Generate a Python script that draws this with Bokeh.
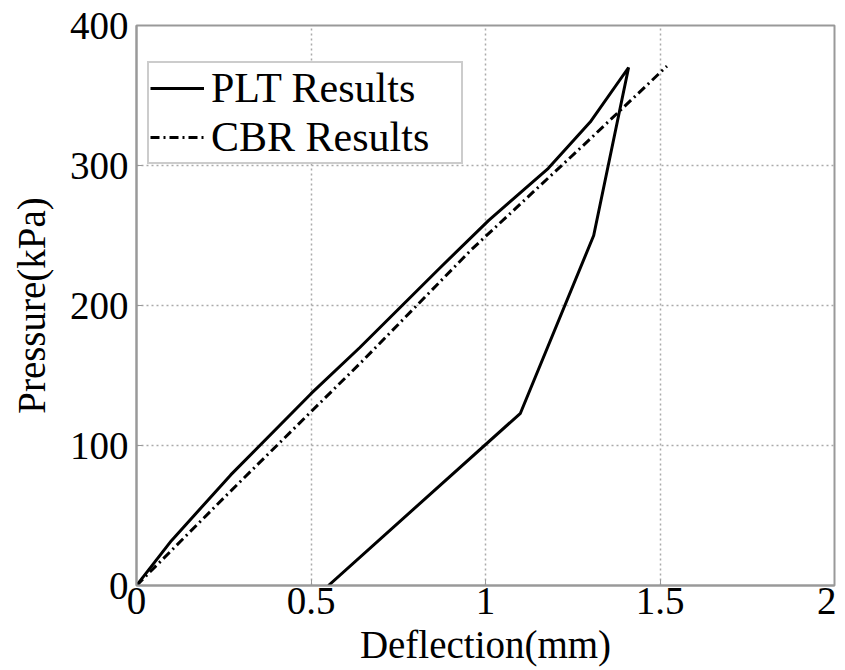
from bokeh.plotting import figure
from bokeh.models import Range1d, FixedTicker, Legend, LegendItem
from bokeh.embed import file_html
from bokeh.resources import INLINE

# PLT loading / unloading path (deflection mm, pressure kPa)
plt_x = [0.0, 0.1, 0.27, 0.5, 0.64, 0.87, 1.01, 1.18, 1.30, 1.41, 1.36, 1.31, 1.10, 0.55]
plt_y = [0, 32, 79, 137, 170, 227, 261, 298, 331, 370, 310, 250, 123, 0]
# CBR prediction
cbr_x = [0.0, 0.26, 0.65, 0.96, 1.30, 1.52]
cbr_y = [0, 65, 161, 240, 319, 371]

x_ticks = [0, 0.5, 1, 1.5, 2]
y_ticks = [0, 100, 200, 300, 400]

FONT = "Liberation Serif"

p = figure(width=836, height=668, output_backend="svg", toolbar_location=None,
           x_range=Range1d(0, 2), y_range=Range1d(0, 400),
           min_border_left=136, min_border_right=2, min_border_top=25, min_border_bottom=81)

l1 = p.line(plt_x, plt_y, line_color="black", line_width=3)
l2 = p.line(cbr_x, cbr_y, line_color="black", line_width=3, line_dash="9 4 2 4")

p.xaxis.ticker = FixedTicker(ticks=x_ticks)
p.yaxis.ticker = FixedTicker(ticks=y_ticks)
p.xaxis.major_label_overrides = {0: "0", 0.5: "0.5", 1: "1", 1.5: "1.5", 2: "2"}

for ax in (p.xaxis[0], p.yaxis[0]):
    ax.axis_line_color = "#999999"
    ax.axis_line_width = 2
    ax.major_tick_line_color = "#999999"
    ax.major_tick_in = 6
    ax.major_tick_out = 0
    ax.minor_tick_line_color = None
    ax.major_label_text_font = FONT
    ax.major_label_text_font_size = "39px"
    ax.major_label_text_color = "black"
    ax.axis_label_text_font = FONT
    ax.axis_label_text_font_size = "39px"
    ax.axis_label_text_font_style = "normal"
    ax.axis_label_text_color = "black"

p.xaxis.axis_label = "Deflection(mm)"
p.yaxis.axis_label = "Pressure(kPa)"
p.xaxis.major_label_standoff = 2
p.xaxis.axis_label_standoff = 6
p.yaxis.major_label_standoff = 8
p.yaxis.axis_label_standoff = 14

p.outline_line_color = "#999999"
p.outline_line_width = 2

for g in (p.xgrid[0], p.ygrid[0]):
    g.grid_line_color = "#aaaaaa"
    g.grid_line_dash = "2 3"
    g.grid_line_width = 1.5

legend = Legend(items=[LegendItem(label="PLT Results", renderers=[l1]),
                       LegendItem(label="CBR Results", renderers=[l2])],
                location=(11, 421))
legend.label_text_font = FONT
legend.label_text_font_size = "42px"
legend.label_text_color = "black"
legend.glyph_width = 54
legend.glyph_height = 40
legend.label_height = 40
legend.label_width = 249
legend.label_standoff = 7
legend.padding = 1
legend.spacing = 1
legend.margin = 0
legend.border_line_color = "#999999"
legend.border_line_width = 2
legend.background_fill_alpha = 1
p.add_layout(legend, "center")

p.background_fill_color = "white"
p.border_fill_color = "white"

open("out.html", "w").write(file_html(p, INLINE))
